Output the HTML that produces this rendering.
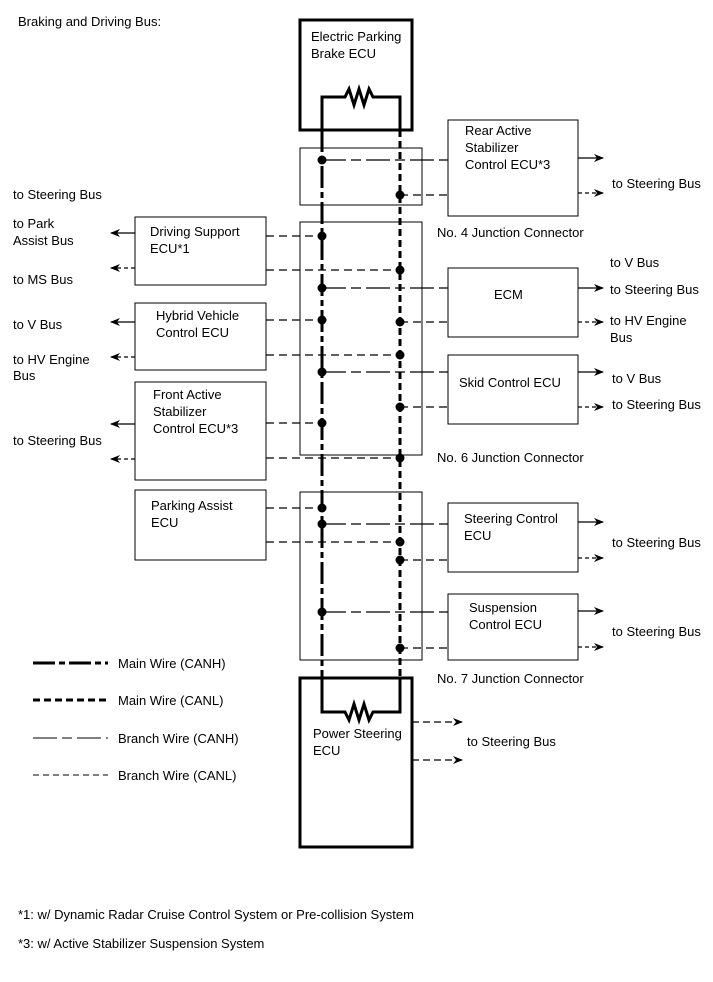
<!DOCTYPE html>
<html><head><meta charset="utf-8"><style>body{margin:0;background:#fff}svg{display:block}text{font-family:"Liberation Sans",Arial,sans-serif;font-size:13px;fill:#000}</style></head><body>
<svg width="713" height="982" viewBox="0 0 713 982" xmlns="http://www.w3.org/2000/svg">
<defs><marker id="a" markerWidth="10" markerHeight="8" refX="9" refY="4" orient="auto" markerUnits="userSpaceOnUse"><path d="M0,0 L10,4 L0,8 L3,4 Z" fill="#000"/></marker></defs>
<text x="18" y="26">Braking and Driving Bus:</text>
<g fill="none" stroke="#000">
<rect x="300" y="20" width="112" height="110" stroke-width="3"/>
<rect x="300" y="678" width="112" height="169" stroke-width="3"/>
<g stroke-width="1">
<rect x="300" y="148" width="122" height="57"/>
<rect x="300" y="222" width="122" height="233"/>
<rect x="300" y="492" width="122" height="168"/>
<rect x="448" y="120" width="130" height="96"/>
<rect x="448" y="268" width="130" height="69"/>
<rect x="448" y="355" width="130" height="69"/>
<rect x="448" y="503" width="130" height="69"/>
<rect x="448" y="594" width="130" height="66"/>
<rect x="135" y="217" width="131" height="68"/>
<rect x="135" y="303" width="131" height="67"/>
<rect x="135" y="382" width="131" height="98"/>
<rect x="135" y="490" width="131" height="70"/>
</g>
<g stroke-width="3">
<path d="M322,130 V97 H345 l4,-8 l5,16 l5,-16 l5,16 l5,-16 l4,8 H400 V130"/>
<path d="M322,678 V712 H345 l4,8 l5,-16 l5,16 l5,-16 l5,16 l4,-8 H400 V678"/>
<line x1="322" y1="130" x2="322" y2="678" stroke-dasharray="22 4 6 4"/>
<line x1="400" y1="130" x2="400" y2="678" stroke-dasharray="7 4"/>
</g>
<g stroke-width="1.2">
<g stroke-dasharray="24 5 10 5">
<line x1="322" y1="160" x2="448" y2="160"/>
<line x1="322" y1="288" x2="448" y2="288"/>
<line x1="322" y1="372" x2="448" y2="372"/>
<line x1="322" y1="524" x2="448" y2="524"/>
<line x1="322" y1="612" x2="448" y2="612"/>
</g>
<g stroke-dasharray="8 5">
<line x1="400" y1="195" x2="448" y2="195"/>
<line x1="400" y1="322" x2="448" y2="322"/>
<line x1="400" y1="407" x2="448" y2="407"/>
<line x1="400" y1="560" x2="448" y2="560"/>
<line x1="400" y1="648" x2="448" y2="648"/>
<line x1="266" y1="236" x2="322" y2="236"/>
<line x1="266" y1="270" x2="400" y2="270"/>
<line x1="266" y1="320" x2="322" y2="320"/>
<line x1="266" y1="355" x2="400" y2="355"/>
<line x1="266" y1="423" x2="322" y2="423"/>
<line x1="266" y1="458" x2="400" y2="458"/>
<line x1="266" y1="508" x2="322" y2="508"/>
<line x1="266" y1="542" x2="400" y2="542"/>
</g>
<g marker-end="url(#a)">
<line x1="578" y1="158" x2="603" y2="158"/>
<line x1="578" y1="193" x2="603" y2="193" stroke-dasharray="4 3"/>
<line x1="578" y1="288" x2="603" y2="288"/>
<line x1="578" y1="322" x2="603" y2="322" stroke-dasharray="4 3"/>
<line x1="578" y1="372" x2="603" y2="372"/>
<line x1="578" y1="407" x2="603" y2="407" stroke-dasharray="4 3"/>
<line x1="578" y1="522" x2="603" y2="522"/>
<line x1="578" y1="558" x2="603" y2="558" stroke-dasharray="4 3"/>
<line x1="578" y1="611" x2="603" y2="611"/>
<line x1="578" y1="647" x2="603" y2="647" stroke-dasharray="4 3"/>
<line x1="412" y1="722" x2="462" y2="722" stroke-dasharray="7 4"/>
<line x1="412" y1="760" x2="462" y2="760" stroke-dasharray="7 4"/>
<line x1="135" y1="233" x2="111" y2="233"/>
<line x1="135" y1="268" x2="111" y2="268" stroke-dasharray="4 3"/>
<line x1="135" y1="322" x2="111" y2="322"/>
<line x1="135" y1="357" x2="111" y2="357" stroke-dasharray="4 3"/>
<line x1="135" y1="424" x2="111" y2="424"/>
<line x1="135" y1="459" x2="111" y2="459" stroke-dasharray="4 3"/>
</g>
</g>
<g stroke-width="3">
<line x1="33" y1="663" x2="108" y2="663" stroke-dasharray="22 4 6 4"/>
<line x1="33" y1="700" x2="108" y2="700" stroke-dasharray="7 4"/>
</g>
<g stroke-width="1">
<line x1="33" y1="738" x2="108" y2="738" stroke-dasharray="24 5 10 5"/>
<line x1="33" y1="775" x2="108" y2="775" stroke-dasharray="6 4"/>
</g>
</g>
<g fill="#000">
<circle cx="322" cy="160" r="4.5"/><circle cx="400" cy="195" r="4.5"/>
<circle cx="322" cy="236" r="4.5"/><circle cx="400" cy="270" r="4.5"/>
<circle cx="322" cy="288" r="4.5"/><circle cx="322" cy="320" r="4.5"/><circle cx="400" cy="322" r="4.5"/>
<circle cx="400" cy="355" r="4.5"/><circle cx="322" cy="372" r="4.5"/><circle cx="400" cy="407" r="4.5"/>
<circle cx="322" cy="423" r="4.5"/><circle cx="400" cy="458" r="4.5"/>
<circle cx="322" cy="508" r="4.5"/><circle cx="322" cy="524" r="4.5"/><circle cx="400" cy="542" r="4.5"/><circle cx="400" cy="560" r="4.5"/>
<circle cx="322" cy="612" r="4.5"/><circle cx="400" cy="648" r="4.5"/>
</g>
<text x="311" y="41">Electric Parking</text><text x="311" y="58">Brake ECU</text>
<text x="465" y="135">Rear Active</text><text x="465" y="152">Stabilizer</text><text x="465" y="169">Control ECU*3</text>
<text x="612" y="188">to Steering Bus</text>
<text x="437" y="237">No. 4 Junction Connector</text>
<text x="610" y="267">to V Bus</text><text x="610" y="294">to Steering Bus</text>
<text x="610" y="325">to HV Engine</text><text x="610" y="342">Bus</text>
<text x="494" y="299">ECM</text>
<text x="459" y="387">Skid Control ECU</text>
<text x="612" y="383">to V Bus</text><text x="612" y="409">to Steering Bus</text>
<text x="437" y="462">No. 6 Junction Connector</text>
<text x="464" y="523">Steering Control</text><text x="464" y="540">ECU</text>
<text x="612" y="547">to Steering Bus</text>
<text x="469" y="612">Suspension</text><text x="469" y="629">Control ECU</text>
<text x="612" y="636">to Steering Bus</text>
<text x="437" y="683">No. 7 Junction Connector</text>
<text x="313" y="738">Power Steering</text><text x="313" y="755">ECU</text>
<text x="467" y="746">to Steering Bus</text>
<text x="13" y="199">to Steering Bus</text>
<text x="13" y="228">to Park</text><text x="13" y="245">Assist Bus</text>
<text x="13" y="284">to MS Bus</text>
<text x="150" y="236">Driving Support</text><text x="150" y="253">ECU*1</text>
<text x="13" y="329">to V Bus</text>
<text x="13" y="364">to HV Engine</text><text x="13" y="380">Bus</text>
<text x="156" y="320">Hybrid Vehicle</text><text x="156" y="337">Control ECU</text>
<text x="153" y="399">Front Active</text><text x="153" y="416">Stabilizer</text><text x="153" y="433">Control ECU*3</text>
<text x="13" y="445">to Steering Bus</text>
<text x="151" y="510">Parking Assist</text><text x="151" y="527">ECU</text>
<text x="118" y="668">Main Wire (CANH)</text>
<text x="118" y="705">Main Wire (CANL)</text>
<text x="118" y="743">Branch Wire (CANH)</text>
<text x="118" y="780">Branch Wire (CANL)</text>
<text x="18" y="919">*1: w/ Dynamic Radar Cruise Control System or Pre-collision System</text>
<text x="18" y="948">*3: w/ Active Stabilizer Suspension System</text>
</svg>
</body></html>
